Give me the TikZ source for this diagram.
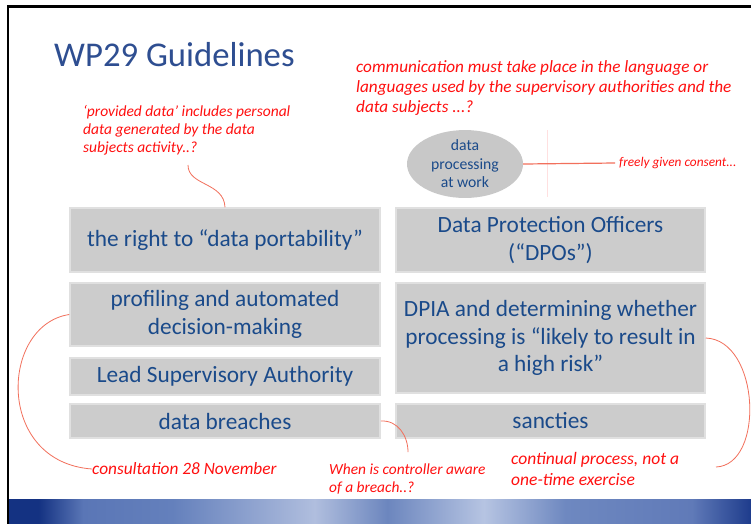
\documentclass[tikz,border=0pt]{standalone}
\usepackage{fontspec}
\setmainfont{Carlito}
\usetikzlibrary{shapes.geometric}
\definecolor{txtblue}{RGB}{26,74,138}
\definecolor{titleblue}{RGB}{46,78,145}
\definecolor{boxgray}{RGB}{204,204,204}
\definecolor{boxedge}{RGB}{224,224,224}
\definecolor{ellgray}{RGB}{200,200,200}
\definecolor{notered}{RGB}{255,16,16}
\definecolor{curvered}{RGB}{242,112,92}
\definecolor{bandA}{RGB}{20,50,130}
\definecolor{bandB}{RGB}{90,118,182}
\definecolor{bandB2}{RGB}{100,128,188}
\definecolor{bandC}{RGB}{176,190,222}
\definecolor{bandD}{RGB}{108,134,190}
\definecolor{bandE}{RGB}{182,196,226}
\definecolor{bandF}{RGB}{110,136,192}
\definecolor{bandF2}{RGB}{96,122,184}
\definecolor{bandG}{RGB}{30,60,140}
\pgfdeclarehorizontalshading{band}{100bp}{color(0bp)=(bandA); color(25bp)=(bandA); color(27bp)=(bandA); color(30bp)=(bandB); color(36bp)=(bandB2); color(45.6bp)=(bandC); color(50.5bp)=(bandD); color(57bp)=(bandE); color(62.5bp)=(bandF); color(71bp)=(bandF2); color(75bp)=(bandG); color(100bp)=(bandG)}
\tikzset{
  box/.style={fill=boxgray, draw=boxedge, line width=1.5pt, text=txtblue, align=center, inner sep=0pt, font=\fontsize{23.3}{27.5}\selectfont},
  note/.style={text=notered, align=left, inner sep=0pt, anchor=west},
  link/.style={draw=curvered, line width=0.8pt},
}
\begin{document}
\begin{tikzpicture}[x=1pt,y=-1pt]
\useasboundingbox (0,0) rectangle (751,523);
\fill[white] (0,0) rectangle (751,523);
% frame and band
\shade[shading=band] (9,499) rectangle (751,523);
\draw[line width=2.5pt] (8,524) -- (8,6.5) -- (752,6.5);
% title
\node[anchor=west, inner sep=0pt, text=titleblue, font=\fontsize{34.7}{40}\selectfont] (title) at (54,55) {WP29 Guidelines};
% notes
\node[note, font=\fontsize{15.5}{18}\selectfont\itshape] (n1) at (83,130) {‘provided data’ includes personal\\data generated by the data\\subjects activity..?};
\node[note, font=\fontsize{17.2}{20}\selectfont\itshape] (n2) at (356,88) {communication must take place in the language or\\languages used by the supervisory authorities and the\\data subjects ...?};
\node[note, font=\fontsize{13.3}{16}\selectfont\itshape] (n3) at (619,163) {freely given consent...};
\node[note, font=\fontsize{17.3}{20}\selectfont\itshape] (n4) at (92,469) {consultation 28 November};
\node[note, font=\fontsize{15.4}{18}\selectfont\itshape] (n5) at (329,479) {When is controller aware\\of a breach..?};
\node[note, font=\fontsize{17.5}{21}\selectfont\itshape] (n6) at (511,469) {continual process, not a\\one-time exercise};
% ellipse
\node[ellipse, fill=ellgray, minimum width=116pt, minimum height=64pt, inner sep=0pt, text=txtblue, align=center, font=\fontsize{15.7}{18.5}\selectfont] (ell) at (465,164) {data\\processing\\at work};
% boxes
\node[box, minimum width=310pt, minimum height=64pt] (b1) at (225,240) {the right to “data portability”};
\node[box, minimum width=309pt, minimum height=64pt] (b2) at (550.5,240) {Data Protection Officers\\(“DPOs”)};
\node[box, minimum width=310pt, minimum height=63pt] (b3) at (225,314.5) {profiling and automated\\decision-making};
\node[box, minimum width=309pt, minimum height=110pt] (b4) at (550.5,338) {DPIA and determining whether\\processing is “likely to result in\\a high risk”};
\node[box, minimum width=310pt, minimum height=37pt] (b5) at (225,376.5) {Lead Supervisory Authority};
\node[box, minimum width=310pt, minimum height=34pt] (b6) at (225,421) {data breaches};
\node[box, minimum width=309pt, minimum height=34pt] (b7) at (550.5,421) {sancties};
% connectors
\coordinate (c1) at (188,165);
\coordinate (c3) at (408,452);
\coordinate (c4) at (716,467);
\coordinate (c5) at (615,163);
\coordinate (c6a) at (547,130);
\coordinate (c6b) at (547,197);
\draw[draw=red!12, line width=1pt] (c6a) -- (c6b);
\draw[link] (c1) .. controls (188,186) and (224,182) .. (b1.north);
\draw[link] (b3.west) .. controls (0,325) and (-5,462) .. (n4.west);
\draw[link] (b6.east) .. controls (398,420) and (408,436) .. (c3);
\draw[link] (b4.east) .. controls (760,340) and (765,465) .. (c4);
\draw[link, line width=1.2pt] (ell.east) -- (c5);
\end{tikzpicture}
\end{document}
